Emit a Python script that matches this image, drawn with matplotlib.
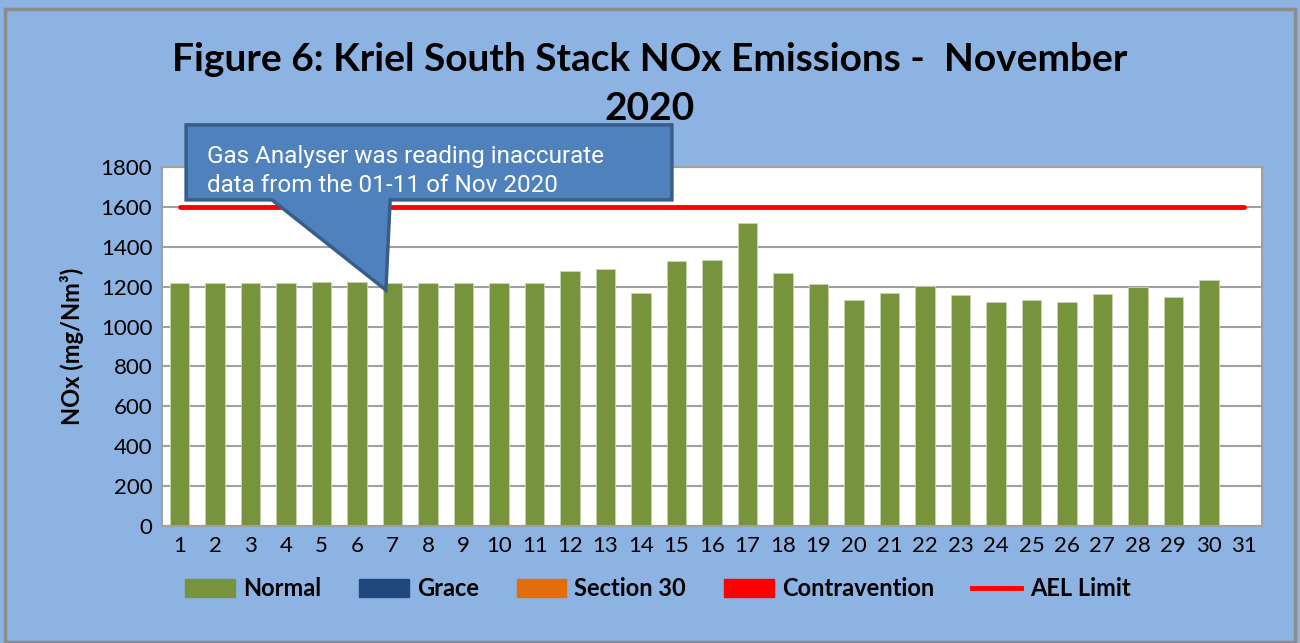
import numpy as np
import matplotlib
matplotlib.use("Agg")
import matplotlib.pyplot as plt
from matplotlib.patches import Patch, Polygon, Rectangle
from matplotlib.lines import Line2D

days = list(range(1, 32))
nox = [1218, 1219, 1219, 1220, 1221, 1221, 1219, 1218, 1218, 1218, 1218,
       1280, 1289, 1168, 1329, 1332, 1518, 1268, 1212, 1133, 1167, 1202,
       1157, 1125, 1133, 1122, 1162, 1198, 1148, 1233, 0]
ael_limit = [1600] * 31
legend_names = ["Normal", "Grace", "Section 30", "Contravention", "AEL Limit"]
legend_colors = ["#77933C", "#1F497D", "#E46C0A", "#FF0000", "#FF0000"]
title = "Figure 6: Kriel South Stack NOx Emissions -  November\n2020"
note = "Gas Analyser was reading inaccurate\ndata from the 01-11 of Nov 2020"

bg = "#8DB3E2"
fig = plt.figure(figsize=(13, 6.43), dpi=100, facecolor=bg)
fig.patches.append(Rectangle((0.004, 0.002), 0.992, 0.984, transform=fig.transFigure,
                             fill=False, edgecolor="#8C8C8C", lw=2.5))

ax = fig.add_axes([0.1246, 0.182, 0.8462, 0.5583])
ax.set_facecolor("white")
ax.bar(days, nox, width=0.55, color=legend_colors[0], edgecolor="#C9D4B4", lw=0.6, zorder=2)
ax.plot(days, ael_limit, color="red", lw=3.5, solid_capstyle="round", zorder=3)

ax.set_xlim(0.5, 31.5)
ax.set_ylim(0, 1800)
ax.set_yticks(np.arange(0, 1801, 200))
ax.set_xticks(days)
ax.grid(axis="y", color="#A0A0A0", lw=1.5, zorder=0)
ax.set_axisbelow(True)
for s in ax.spines.values():
    s.set_color("#A0A0A0")
    s.set_linewidth(1.5)
ax.tick_params(axis="both", length=0, labelsize=16, pad=7)
for lab in ax.get_xticklabels() + ax.get_yticklabels():
    lab.set_fontfamily("Lato")
ax.set_ylabel("NOx (mg/Nm³)", fontsize=17, fontweight="bold", family="Lato", labelpad=12)

fig.text(0.5, 0.869, title, ha="center", va="center", fontsize=28, fontweight="bold",
         family="Lato", linespacing=1.48)

# callout box with pointer
callout = [(1.18, 2011), (14.87, 2011), (14.87, 1635), (6.93, 1635), (6.81, 1183),
           (3.6, 1635), (1.18, 1635)]
ax.add_patch(Polygon(callout, closed=True, facecolor="#4F81BD", edgecolor="#385D8A",
                     lw=2.5, clip_on=False, zorder=5))
ax.text(1.77, 1780, note, color="white", fontsize=17.5, family="Roboto",
        va="center", ha="left", linespacing=1.3, zorder=6)

handles = [Patch(color=c) for c in legend_colors[:4]]
handles.append(Line2D([0], [0], color=legend_colors[4], lw=3.5))
leg = fig.legend(handles, legend_names, loc="center", bbox_to_anchor=(0.506, 0.084), ncol=5,
                 frameon=False, handlelength=2.1, handleheight=0.8, columnspacing=1.6,
                 handletextpad=0.35, prop={"family": "Lato", "weight": "bold", "size": 17})

fig.savefig("out.png", dpi=100, facecolor=bg)
